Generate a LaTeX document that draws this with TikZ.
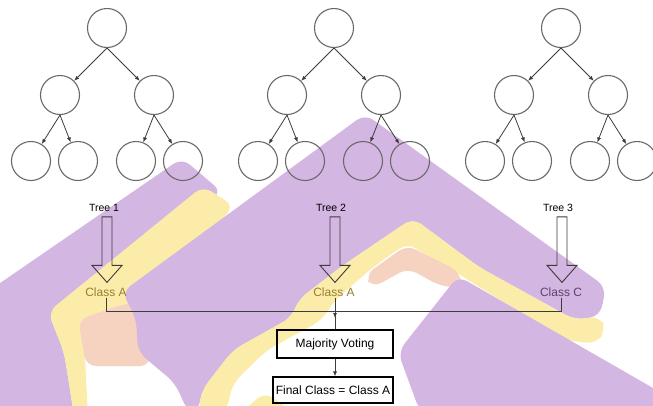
\documentclass[tikz,border=0pt]{standalone}
\usepackage{fontspec}
\setmainfont{Liberation Sans}
\usetikzlibrary{arrows.meta,calc}
\definecolor{wmP}{RGB}{212,182,226}
\definecolor{wmY}{RGB}{251,236,170}
\definecolor{wmS}{RGB}{246,210,192}
\definecolor{circ}{RGB}{105,105,105}
\definecolor{edgec}{RGB}{60,60,60}
\definecolor{clsA}{RGB}{150,128,48}
\definecolor{clsC}{RGB}{95,65,110}
\begin{document}
\begin{tikzpicture}[x=1pt,y=-1pt,
  tnode/.style={circle, draw=circ, line width=1.1pt, minimum size=39pt, inner sep=0pt},
  tedge/.style={draw=edgec, line width=0.8pt, -{Latex[length=5pt,width=4pt]}},
  lbl/.style={font=\fontsize{10.5}{12}\selectfont, inner sep=1pt},
  cls/.style={font=\fontsize{12}{14}\selectfont, inner sep=1pt},
  box/.style={draw=black, line width=1.1pt, minimum width=116pt, minimum height=28pt, inner sep=0pt, font=\fontsize{12}{14}\selectfont},
  blk/.style={draw=edgec, line width=0.9pt},
  conn/.style={draw=edgec, line width=0.8pt},
  wm/.style={rounded corners=10pt}]
\useasboundingbox (0,0) rectangle (653,405);
\fill[white] (0,0) rectangle (653,405);
% watermark (background logo)
\fill[wmP, wm] (-10,290) -- (182,158) -- (222,192) -- (48,312) -- (64,352) -- (74,415) -- (-10,415) -- cycle;
\fill[wmY, wm] (203,186) -- (234,206) -- (150,300) -- (120,305) -- (78,320) -- (85,360) -- (88,415) -- (74,415) -- (64,352) -- (48,312) -- cycle;
\fill[wmS, wm] (78,320) -- (120,305) -- (150,300) -- (150,366) -- (86,366) -- (85,360) -- cycle;
\fill[wmP, wm] (122,292) -- (365,114) -- (606,287) -- (600,316) -- (575,320) -- (479,267) -- (413,218) -- (342,266) -- (298,300) -- (292,317) -- (233,350) -- (202,390) -- (198,412) -- (188,412) -- (175,383) -- (138,352) -- (136,318) -- cycle;
\fill[wmY, wm] (413,218) -- (479,267) -- (575,320) -- (600,316) -- (606,330) -- (596,344) -- (565,340) -- (452,270) -- (407,243) -- (372,268) -- (335,300) -- (322,320) -- (267,350) -- (233,383) -- (226,412) -- (198,412) -- (202,390) -- (233,350) -- (292,317) -- (298,300) -- (342,266) -- cycle;
\fill[wmS, wm] (365,275) -- (407,245) -- (460,272) -- (462,288) -- (440,286) -- (408,268) -- (372,288) -- cycle;
\fill[wmP, wm] (458,276) -- (660,392) -- (660,412) -- (420,412) -- (398,352) -- cycle;
\fill[wmY, wm] (242,412) -- (265,392) -- (292,412) -- cycle;
% trees
\foreach \i/\cx in {1/107,2/334,3/561}{
  \node[tnode] (r\i) at (\cx,28) {};
  \node[tnode] (a\i) at ({\cx-47},95) {};
  \node[tnode] (b\i) at ({\cx+47},95) {};
  \node[tnode] (aa\i) at ({\cx-76},161) {};
  \node[tnode] (ab\i) at ({\cx-29},161) {};
  \node[tnode] (ba\i) at ({\cx+29},161) {};
  \node[tnode] (bb\i) at ({\cx+76},161) {};
  \draw[tedge] (r\i.south) -- (a\i);
  \draw[tedge] (r\i.south) -- (b\i);
  \draw[tedge] (a\i.south) -- (aa\i);
  \draw[tedge] (a\i.south) -- (ab\i);
  \draw[tedge] (b\i.south) -- (ba\i);
  \draw[tedge] (b\i.south) -- (bb\i);
}
% labels
\node[lbl] (tl1) at (104,208) {Tree 1};
\node[lbl] (tl2) at (331,208) {Tree 2};
\node[lbl] (tl3) at (558,208) {Tree 3};
\node[cls, text=clsA] (c1) at (106,292) {Class A};
\node[cls, text=clsA] (c2) at (334,292) {Class A};
\node[cls, text=clsC] (c3) at (561,292) {Class C};
% block arrows
\foreach \i in {1,2,3}{
  \coordinate (s0\i) at (c\i.north |- tl\i.south);
  \coordinate (s\i) at ($(s0\i)+(1,4)$);
  \coordinate (e\i) at ($(c\i.north)+(1,-4)$);
  \draw[blk] ($(s\i)+(-5,0)$) -- ($(e\i)+(-5,-17)$) -- ($(e\i)+(-15,-17)$) -- (e\i) -- ($(e\i)+(15,-17)$) -- ($(e\i)+(5,-17)$) -- ($(s\i)+(5,0)$) -- cycle;
}
% boxes
\node[box] (mv) at (335,344) {Majority Voting};
\node[box, minimum width=120pt, minimum height=26pt] (fc) at (333,390) {Final Class = Class A};
% connectors
\coordinate (jy) at (0,311);
\coordinate (jn) at (mv.north |- jy);
\coordinate (ja) at ($(jn)+(0,7)$);
\draw[conn] (c1.south) |- (jn);
\draw[conn] (c3.south) |- (jn);
\draw[conn,-{Latex[length=5pt,width=4pt]}] (jn) -- (ja);
\draw[conn] (c2.south -| mv.north) -- (mv.north);
\draw[conn,-{Latex[length=5pt,width=4pt]}] (mv.south) -- (mv.south |- fc.north);
\end{tikzpicture}
\end{document}
